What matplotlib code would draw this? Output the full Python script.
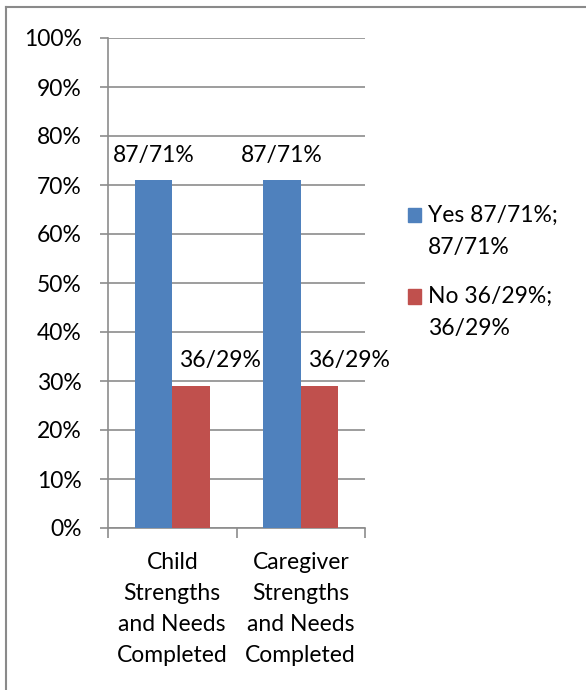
import matplotlib.pyplot as plt
from matplotlib.lines import Line2D
from matplotlib.patches import Patch, Rectangle
from matplotlib.legend_handler import HandlerPatch

categories = ['Child\nStrengths\nand Needs\nCompleted', 'Caregiver\nStrengths\nand Needs\nCompleted']
yes_values = [71, 71]
no_values = [29, 29]
yes_labels = ['87/71%', '87/71%']
no_labels = ['36/29%', '36/29%']
legend_labels = ['Yes 87/71%;\n87/71%', 'No 36/29%;\n36/29%']
yticks = [0, 10, 20, 30, 40, 50, 60, 70, 80, 90, 100]

blue = '#4F81BD'
red = '#C0504D'
grid = '#8C8C8C'

plt.rcParams['font.family'] = ['Lato', 'DejaVu Sans']
plt.rcParams['font.size'] = 16.5

W, H = 586, 690
fig = plt.figure(figsize=(W / 100, H / 100), dpi=100)

# chart border (only top and left visible)
fig.add_artist(Line2D([5.5 / W, 5.5 / W], [0, 1 - 7 / H], color='#8A8A8A', lw=1.5))
fig.add_artist(Line2D([5.5 / W, 1], [1 - 7 / H, 1 - 7 / H], color='#8A8A8A', lw=1.5))

ax = fig.add_axes([108 / W, 162 / H, 257 / W, 490 / H])

w = 0.29
x = range(len(categories))
ax.bar([i - w / 2 for i in x], yes_values, w, color=blue, zorder=3)
ax.bar([i + w / 2 for i in x], no_values, w, color=red, zorder=3)

for i in x:
    ax.annotate(yes_labels[i], (i - w / 2, yes_values[i]), xytext=(0, 18),
                textcoords='offset points', ha='center', va='center')
    ax.annotate(no_labels[i], (i + w / 2, no_values[i]), xytext=(21, 18.5),
                textcoords='offset points', ha='center', va='center')

ax.set_xlim(-0.5, 1.5)
ax.set_ylim(0, 100)
ax.set_yticks(yticks)
ax.set_yticklabels([f'{t}%' for t in yticks])
ax.yaxis.grid(True, color=grid, lw=1.2, zorder=0)
ax.tick_params(axis='y', length=6, color=grid, width=1.2, pad=13)

ax.set_xticks([-0.5, 0.5, 1.5])
ax.set_xticklabels([])
ax.set_xticks([0, 1], minor=True)
ax.set_xticklabels(categories, minor=True, linespacing=1.6)
ax.tick_params(axis='x', which='major', length=7, color=grid, width=1.2)
ax.tick_params(axis='x', which='minor', length=0, pad=17)

for side in ['top', 'right']:
    ax.spines[side].set_visible(False)
for side in ['left', 'bottom']:
    ax.spines[side].set_color(grid)
    ax.spines[side].set_linewidth(1.2)


# legend square sits next to the first line of a two-line label
def top_square(legend, orig_handle, xdescent, ydescent, width, height, fontsize):
    return Rectangle((-xdescent, -ydescent + 12), width, height)


handles = [Patch(color=blue), Patch(color=red)]
leg = fig.legend(handles, legend_labels, loc='upper left', bbox_to_anchor=(387 / W, 1 - 184 / H),
                 frameon=False, handlelength=0.6, handleheight=0.6, handletextpad=0.3,
                 labelspacing=1.25, fontsize=16.5,
                 handler_map={Patch: HandlerPatch(patch_func=top_square)})
for t in leg.get_texts():
    t.set_linespacing(1.65)

fig.savefig('out.png', dpi=100)
